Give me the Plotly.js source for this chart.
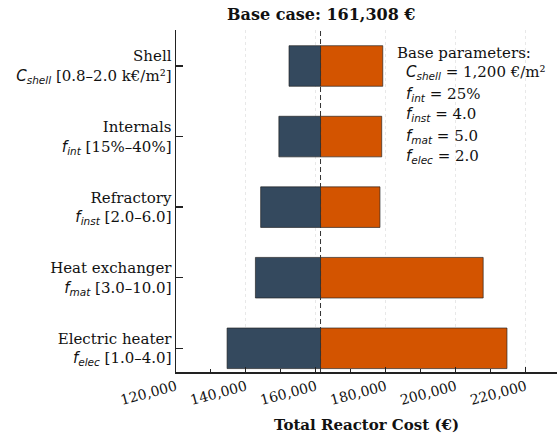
<!DOCTYPE html>
<html><head><meta charset="utf-8">
<script src="https://cdn.plot.ly/plotly-3.0.1.min.js"></script>
<style>body{margin:0;padding:0;background:#fff}</style>
</head><body>
<div id="chart" style="width:557px;height:441px"></div>
<script>
// ---- data ----
const BASE = 161308;
const params = ["Shell", "Internals", "Refractory", "Heat exchanger", "Electric heater"];
const mathSym = [["C","shell"], ["f","int"], ["f","inst"], ["f","mat"], ["f","elec"]];
const ranges = ["[0.8–2.0 k€/m²]", "[15%–40%]", "[2.0–6.0]", "[3.0–10.0]", "[1.0–4.0]"];
const lowCost  = [152300, 149400, 144200, 142700, 134600];
const highCost = [179100, 178800, 178300, 207800, 214600];
const baseValues = ["1,200 €/m²", "25%", "4.0", "5.0", "2.0"];
const xTicks = [120000, 140000, 160000, 180000, 200000, 220000];

function sym(i){
  return `<span style="font-family:DejaVu Sans"><i>${mathSym[i][0]}</i><sub><i>${mathSym[i][1]}</i></sub></span>`;
}
const tickText = params.map((p,i)=> `${p}<br>${sym(i)} ${ranges[i]}`);

const SERIF = "DejaVu Serif";
const traces = [
  {type:'bar', orientation:'h', y: params, base: params.map(()=>BASE),
   x: lowCost.map(v=>v-BASE), width: 0.575,
   marker:{color:'#34495e', line:{color:'rgba(30,30,30,0.65)', width:1}},
   hoverinfo:'skip', showlegend:false},
  {type:'bar', orientation:'h', y: params, base: params.map(()=>BASE),
   x: highCost.map(v=>v-BASE), width: 0.575,
   marker:{color:'#d35400', line:{color:'rgba(30,30,30,0.65)', width:1}},
   hoverinfo:'skip', showlegend:false}
];

// plot area in px: x 176..557, y 30..372
const L=176, R=557, T=30, B=372;
const px = x => (x-L)/(R-L);
const py = y => (B-y)/(B-T);

const annotations = [
  {text:'<b>Base case: 161,308 €</b>', xref:'paper', yref:'paper', x:px(321), y:py(14),
   xanchor:'center', yanchor:'middle', showarrow:false, font:{family:SERIF, size:16, color:'#111'}},
  {text:'Base parameters:', xref:'paper', yref:'paper', x:px(395), y:py(53),
   xanchor:'left', yanchor:'middle', showarrow:false, font:{family:SERIF, size:15, color:'#111'}}
];
const lineY = [72.7, 95, 115, 136, 156];
baseValues.forEach((v,i)=>{
  annotations.push({text:`${sym(i)} = ${v}`, xref:'paper', yref:'paper', x:px(404), y:py(lineY[i]),
    xanchor:'left', yanchor:'middle', showarrow:false, font:{family:SERIF, size:15, color:'#111'}});
});

const layout = {
  width:557, height:441,
  margin:{l:L, r:557-R, t:T, b:441-B},
  paper_bgcolor:'#fff', plot_bgcolor:'#fff',
  barmode:'overlay', bargap:0,
  font:{family:SERIF, size:15, color:'#111'},
  xaxis:{range:[120000, 228900], tickvals:xTicks, tickformat:',d', tickangle:-15,
    ticks:'inside', ticklen:5, tickcolor:'#222', tickwidth:1,
    minor:{dtick:10000, tick0:0, ticks:'inside', ticklen:3, tickcolor:'#222', showgrid:false},
    showgrid:true, gridcolor:'#e8e8e8', griddash:'dot', gridwidth:1,
    showline:true, linecolor:'#222', linewidth:1.5, zeroline:false,
    tickfont:{family:SERIF, size:14, color:'#111'},
    title:{text:'<b>Total Reactor Cost (€)</b>', font:{family:SERIF, size:15, color:'#111'}, standoff:12}},
  yaxis:{type:'category', categoryorder:'array', categoryarray: params.slice().reverse(),
    range:[-0.336, 4.51], tickmode:'array', tickvals: params, ticktext: tickText,
    ticks:'inside', ticklen:7, tickcolor:'#222', tickwidth:1.5,
    showgrid:false, showline:true, linecolor:'#222', linewidth:1.5, zeroline:false,
    tickfont:{family:SERIF, size:15, color:'#111'}},
  shapes:[{type:'line', xref:'x', yref:'paper', x0:BASE, x1:BASE, y0:0, y1:1,
    line:{color:'#333', width:1, dash:'5px,3px'}, layer:'above'}],
  annotations
};
Plotly.newPlot('chart', traces, layout, {displayModeBar:false, staticPlot:true});
</script>
</body></html>
